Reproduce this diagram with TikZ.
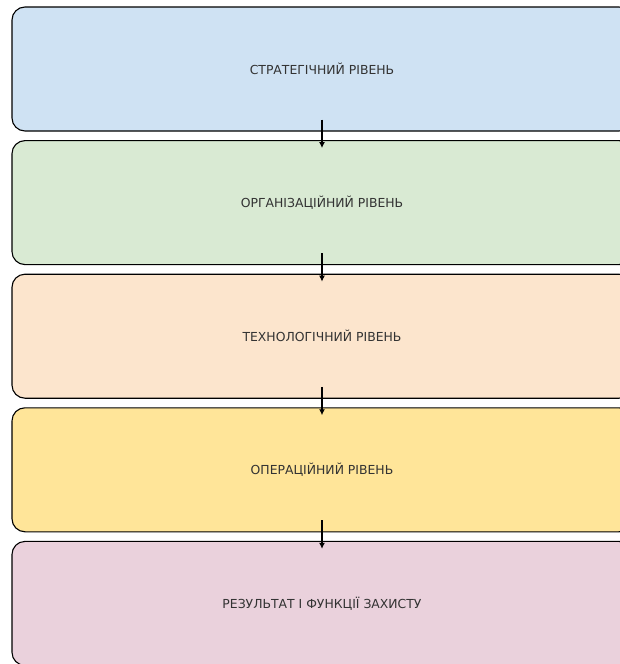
\documentclass[tikz,border=0pt]{standalone}
\usepackage{fontspec}
\setmainfont{DejaVu Sans}
\usetikzlibrary{positioning}
\usetikzlibrary{arrows.meta}

\definecolor{strat}{HTML}{CFE2F3}
\definecolor{org}{HTML}{D9EAD3}
\definecolor{tech}{HTML}{FCE5CD}
\definecolor{oper}{HTML}{FFE599}
\definecolor{res}{HTML}{EAD1DC}
\definecolor{txt}{HTML}{333333}

\begin{document}
\begin{tikzpicture}[
    x=1pt, y=1pt,
    level/.style={rectangle, rounded corners=13pt, draw=black, line width=1.1pt,
        minimum width=620pt, minimum height=124pt, inner sep=0pt,
        text=txt, font=\fontsize{12.4}{14}\selectfont},
]
    \useasboundingbox (0,0) rectangle (620,-664);

    \node[level, fill=strat] (L1) at (322,-69) {СТРАТЕГІЧНИЙ РІВЕНЬ};
    \node[level, fill=org] (L2) [below=8.5pt of L1] {ОРГАНІЗАЦІЙНИЙ РІВЕНЬ};
    \node[level, fill=tech] (L3) [below=8.5pt of L2] {ТЕХНОЛОГІЧНИЙ РІВЕНЬ};
    \node[level, fill=oper] (L4) [below=8.5pt of L3] {ОПЕРАЦІЙНИЙ РІВЕНЬ};
    \node[level, fill=res] (L5) [below=8.5pt of L4] {РЕЗУЛЬТАТ І ФУНКЦІЇ ЗАХИСТУ};

    \draw[-{Latex[length=6pt,width=6pt]}, line width=1.4pt] ([yshift=12pt]L1.south) -- ([yshift=-8pt]L2.north);
    \draw[-{Latex[length=6pt,width=6pt]}, line width=1.4pt] ([yshift=12pt]L2.south) -- ([yshift=-8pt]L3.north);
    \draw[-{Latex[length=6pt,width=6pt]}, line width=1.4pt] ([yshift=12pt]L3.south) -- ([yshift=-8pt]L4.north);
    \draw[-{Latex[length=6pt,width=6pt]}, line width=1.4pt] ([yshift=12pt]L4.south) -- ([yshift=-8pt]L5.north);
\end{tikzpicture}
\end{document}
